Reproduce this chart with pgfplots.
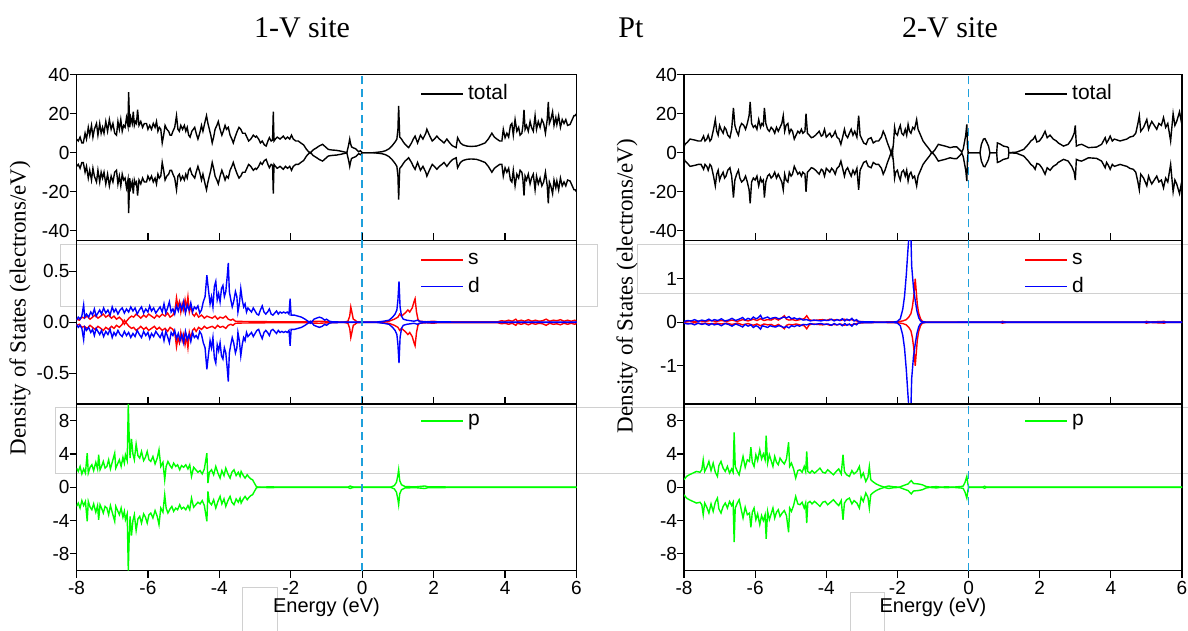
\documentclass[border=0pt]{standalone}
\usepackage{fontspec}
\setmainfont{Liberation Serif}
\newfontfamily\arial{Liberation Sans}
\usepackage{pgfplots}
\pgfplotsset{compat=1.18}
\usepackage{pgfplotstable}

\definecolor{dashblue}{RGB}{30,160,220}
\definecolor{boxgray}{RGB}{208,208,208}
\tikzset{curve/.style={line width=0.7pt}}

% ---------------- left column (1-V site) ----------------
\pgfplotstableread{
E v
-8.00 7
-7.95 6
-7.90 8
-7.85 5
-7.81 5
-7.76 10
-7.72 7
-7.67 13
-7.63 9
-7.58 14
-7.54 8
-7.50 12
-7.44 15
-7.40 9
-7.35 15
-7.31 10
-7.27 13
-7.23 10
-7.18 16
-7.13 11
-7.08 17
-7.03 12
-6.98 15
-6.93 10
-6.88 9
-6.84 16
-6.80 12
-6.76 17
-6.72 11
-6.68 14
-6.64 13
-6.60 18
-6.56 14
-6.54 31
-6.51 13
-6.48 18
-6.44 15
-6.41 21
-6.38 14
-6.35 16
-6.32 15
-6.29 22
-6.25 14
-6.20 16
-6.15 13
-6.10 15
-6.04 15
-6.00 12
-5.95 14
-5.90 12
-5.85 15
-5.80 13
-5.76 16
-5.72 11
-5.68 13
-5.64 12
-5.60 5
-5.56 9
-5.52 14
-5.47 12
-5.42 11
-5.38 9
-5.34 9
-5.30 11
-5.25 13
-5.20 19
-5.16 12
-5.12 11
-5.08 14
-5.03 12
-4.98 14
-4.94 11
-4.90 13
-4.86 9
-4.82 8
-4.77 11
-4.73 12
-4.69 13
-4.65 10
-4.60 7
-4.55 10
-4.50 14
-4.46 11
-4.40 16
-4.36 19
-4.32 15
-4.28 12
-4.24 9
-4.20 5
-4.16 8
-4.12 12
-4.07 14
-4.03 16
-3.98 12
-3.93 9
-3.89 11
-3.84 14
-3.80 12
-3.75 13
-3.70 9
-3.65 7
-3.61 5
-3.56 8
-3.50 11
-3.45 13
-3.40 12
-3.35 10
-3.28 10
-3.23 8
-3.18 6
-3.12 7
-3.05 9
-2.99 8
-2.96 8.5
-2.90 7
-2.85 5
-2.80 6
-2.74 4
-2.69 3.4
-2.64 6
-2.60 7.7
-2.55 6
-2.51 6.5
-2.49 21
-2.47 6
-2.43 7
-2.38 8
-2.30 7
-2.21 8.5
-2.15 7
-2.09 8
-2.03 7
-1.98 9
-1.93 7
-1.86 6
-1.79 6
-1.72 5
-1.64 4
-1.56 1.7
-1.46 -0.3
-1.37 1.5
-1.28 2.5
-1.20 3.5
-1.11 4.3
-1.03 3
-0.95 1.7
-0.85 1.4
-0.72 1.2
-0.60 0.8
-0.48 0.3
-0.43 0.1
-0.38 4
-0.35 7
-0.33 5
-0.30 3
-0.25 2.5
-0.18 2
-0.10 0.5
-0.05 1
0.00 0
0.30 0
0.41 0.2
0.55 0.5
0.65 1
0.75 2
0.83 3.4
0.92 5.5
0.97 7
1.00 12
1.02 24
1.05 8
1.10 7
1.15 5.5
1.20 4.3
1.30 2.6
1.38 5
1.43 7
1.48 8.5
1.55 5
1.63 9
1.70 7
1.78 10
1.81 12
1.88 9
1.96 6
2.02 7
2.09 8.5
2.16 7
2.23 6
2.29 5
2.37 7
2.45 5
2.53 3.5
2.63 2.6
2.67 7.7
2.75 5
2.82 4
2.93 3.4
3.05 3.2
3.20 3.4
3.30 4
3.44 5
3.53 7
3.63 10
3.70 8
3.77 7
3.85 6
3.91 6
3.95 12
4.00 7.7
4.05 10
4.10 8
4.15 14
4.19 15
4.23 9
4.28 17
4.33 11
4.38 13
4.42 9
4.47 10
4.50 14
4.53 22
4.56 12
4.60 14
4.65 11
4.70 16
4.74 13
4.79 11
4.84 19
4.88 12
4.93 16
4.98 13
5.03 17
5.08 15
5.13 10
5.18 17
5.21 26
5.24 15
5.28 17
5.33 21
5.37 14
5.42 18
5.45 14.5
5.50 19
5.55 13
5.60 17
5.65 15
5.70 17
5.75 14
5.82 14.5
5.88 17
5.93 19
5.96 19
6.00 20
}\LT

\pgfplotstableread{
E v
-8.00 0.02
-7.95 0.05
-7.90 0.03
-7.85 0.06
-7.80 0.17
-7.77 0.05
-7.72 0.08
-7.66 0.05
-7.60 0.10
-7.55 0.07
-7.50 0.13
-7.45 0.06
-7.40 0.09
-7.35 0.12
-7.30 0.08
-7.24 0.14
-7.18 0.09
-7.12 0.12
-7.06 0.07
-7.00 0.15
-6.95 0.10
-6.90 0.13
-6.84 0.08
-6.78 0.12
-6.72 0.14
-6.66 0.09
-6.60 0.13
-6.54 0.10
-6.48 0.15
-6.42 0.11
-6.36 0.14
-6.30 0.08
-6.24 0.12
-6.18 0.15
-6.12 0.09
-6.06 0.13
-6.00 0.10
-5.95 0.16
-5.90 0.11
-5.84 0.14
-5.78 0.09
-5.72 0.12
-5.66 0.15
-5.60 0.10
-5.55 0.18
-5.50 0.09
-5.45 0.14
-5.40 0.20
-5.35 0.10
-5.30 0.13
-5.25 0.08
-5.20 0.16
-5.15 0.11
-5.10 0.18
-5.05 0.12
-5.00 0.20
-4.95 0.09
-4.90 0.17
-4.85 0.12
-4.80 0.19
-4.75 0.10
-4.70 0.15
-4.65 0.13
-4.60 0.16
-4.55 0.09
-4.50 0.12
-4.45 0.20
-4.40 0.25
-4.35 0.46
-4.30 0.30
-4.26 0.18
-4.22 0.25
-4.18 0.15
-4.14 0.35
-4.10 0.40
-4.06 0.22
-4.02 0.28
-3.98 0.20
-3.94 0.33
-3.90 0.36
-3.86 0.25
-3.82 0.30
-3.78 0.45
-3.75 0.58
-3.72 0.30
-3.68 0.22
-3.64 0.15
-3.60 0.20
-3.55 0.30
-3.51 0.25
-3.48 0.10
-3.44 0.18
-3.40 0.33
-3.36 0.22
-3.32 0.15
-3.28 0.18
-3.24 0.10
-3.20 0.14
-3.15 0.12
-3.10 0.10
-3.05 0.14
-3.00 0.11
-2.95 0.08
-2.90 0.07
-2.85 0.12
-2.80 0.16
-2.75 0.10
-2.70 0.08
-2.65 0.10
-2.60 0.13
-2.55 0.08
-2.50 0.07
-2.45 0.09
-2.40 0.11
-2.35 0.08
-2.30 0.10
-2.25 0.09
-2.20 0.10
-2.15 0.09
-2.10 0.10
-2.05 0.08
-2.02 0.23
-1.99 0.07
-1.90 0.07
-1.80 0.06
-1.70 0.05
-1.60 0.03
-1.52 0.01
-1.45 -0.01
-1.40 0.01
-1.35 0.03
-1.28 0.04
-1.20 0.05
-1.12 0.04
-1.05 0.02
-1.00 0.03
-0.92 0.01
-0.85 0.005
-0.60 0.002
0.00 0.001
0.40 0.002
0.60 0.01
0.75 0.02
0.85 0.05
0.92 0.08
0.97 0.12
1.00 0.22
1.03 0.40
1.06 0.15
1.10 0.06
1.15 0.03
1.25 0.02
1.35 0.015
1.45 0.01
1.55 0.02
1.60 0.01
1.70 0.005
2.00 0.003
6.00 0.002
}\LD

\pgfplotstableread{
E v
-8.00 0.03
-7.92 0.02
-7.85 0.05
-7.78 0.04
-7.70 0.06
-7.62 0.03
-7.55 0.05
-7.48 0.07
-7.40 0.04
-7.32 0.06
-7.25 0.08
-7.18 0.05
-7.10 0.07
-7.02 0.04
-6.95 0.06
-6.88 0.03
-6.80 0.05
-6.72 0.02
-6.66 -0.02
-6.60 0.01
-6.53 0.04
-6.46 0.06
-6.40 0.05
-6.33 0.08
-6.26 0.06
-6.20 0.04
-6.12 0.07
-6.05 0.05
-5.98 0.08
-5.90 0.06
-5.82 0.04
-5.75 0.07
-5.68 0.05
-5.60 0.08
-5.52 0.06
-5.45 0.09
-5.38 0.05
-5.30 0.07
-5.24 0.12
-5.20 0.24
-5.16 0.15
-5.12 0.20
-5.08 0.10
-5.04 0.18
-5.00 0.12
-4.96 0.22
-4.92 0.14
-4.88 0.25
-4.84 0.10
-4.80 0.16
-4.75 0.08
-4.70 0.06
-4.65 0.09
-4.58 0.05
-4.50 0.07
-4.42 0.04
-4.35 0.06
-4.28 0.05
-4.20 0.04
-4.12 0.06
-4.05 0.03
-3.98 0.05
-3.90 0.04
-3.82 0.06
-3.75 0.03
-3.68 0.02
-3.62 0.03
-3.55 0.01
-3.40 0.008
-3.00 0.006
-2.50 0.005
-2.00 0.004
-1.60 0.005
-1.20 0.01
-0.90 0.004
-0.50 0.002
-0.40 0.01
-0.35 0.06
-0.32 0.15
-0.29 0.10
-0.25 0.03
-0.20 0.02
-0.15 0.005
0.00 0.002
0.50 0.003
0.75 0.01
0.90 0.03
1.00 0.05
1.05 0.08
1.10 0.06
1.20 0.09
1.28 0.12
1.33 0.10
1.40 0.14
1.45 0.20
1.48 0.23
1.52 0.10
1.56 0.03
1.60 0.01
1.80 0.005
2.00 0.01
2.10 0.005
3.80 0.005
3.90 0.015
4.00 0.01
4.10 0.02
4.20 0.01
4.30 0.03
4.35 0.01
4.45 0.02
4.55 0.01
4.65 0.025
4.75 0.01
4.85 0.02
4.95 0.01
5.05 0.015
5.15 0.03
5.25 0.01
5.35 0.02
5.45 0.015
5.55 0.025
5.65 0.01
5.75 0.02
5.85 0.01
5.95 0.02
6.00 0.01
}\LS

\pgfplotstableread{
E v
-8.00 2.3
-7.95 1.9
-7.90 2.5
-7.85 1.6
-7.80 2.2
-7.75 1.7
-7.70 4.1
-7.67 1.7
-7.62 2.4
-7.57 2.7
-7.52 2.0
-7.46 3.0
-7.41 2.2
-7.38 3.9
-7.34 2.1
-7.29 2.6
-7.25 3.1
-7.20 2.3
-7.15 2.5
-7.10 3.3
-7.05 2.2
-7.00 3.0
-6.93 4.1
-6.90 2.3
-6.85 2.8
-6.80 3.3
-6.75 2.5
-6.70 3.6
-6.66 2.9
-6.63 3.9
-6.58 3.2
-6.55 10
-6.53 6.8
-6.50 3.5
-6.46 5.8
-6.42 4.0
-6.38 3.3
-6.33 5.2
-6.28 3.8
-6.23 3.5
-6.18 4.3
-6.12 3.2
-6.07 3.6
-6.02 4.3
-5.97 3.3
-5.92 3.1
-5.86 3.7
-5.80 2.8
-5.74 3.5
-5.69 4.5
-5.64 2.5
-5.58 3.0
-5.53 0.9
-5.49 2.5
-5.44 3.1
-5.38 2.6
-5.33 2.3
-5.28 2.9
-5.22 2.5
-5.17 2.7
-5.11 2.1
-5.06 2.6
-5.00 2.4
-4.94 2.7
-4.88 2.2
-4.83 2.7
-4.78 1.3
-4.72 2.4
-4.66 2.1
-4.60 1.8
-4.54 2.0
-4.48 1.6
-4.42 2.2
-4.35 4.1
-4.32 0.5
-4.28 1.8
-4.22 2.1
-4.16 1.5
-4.10 2.5
-4.04 1.7
-3.98 1.1
-3.93 2.0
-3.87 1.4
-3.82 2.3
-3.76 1.6
-3.70 1.1
-3.65 1.8
-3.59 2.1
-3.53 1.4
-3.47 1.8
-3.42 1.3
-3.39 1.9
-3.33 1.4
-3.28 1.1
-3.22 1.5
-3.17 1.2
-3.12 1.0
-3.07 0.9
-3.02 0.5
-2.96 0.05
-2.90 0.02
-2.50 0.05
-2.40 0.01
-2.00 0.02
-1.50 0.01
-0.40 0.02
-0.34 0.15
-0.28 0.05
-0.20 0.01
0.80 0.02
0.90 0.2
0.96 0.6
1.00 1.5
1.02 2.1
1.05 0.8
1.10 0.3
1.20 0.08
1.50 0.05
1.75 0.15
1.85 0.04
2.30 0.05
2.40 0.01
6.00 0.01
}\LP

% ---------------- right column (2-V site) ----------------
\pgfplotstableread{
E v
-8.00 3
-7.97 4.3
-7.90 5.5
-7.83 7
-7.70 6.5
-7.60 6
-7.52 6
-7.45 8.5
-7.41 6
-7.36 7
-7.32 9
-7.27 6
-7.23 7
-7.17 12
-7.12 17
-7.08 11
-7.04 9
-7.00 14
-6.96 12
-6.90 10
-6.86 13
-6.82 12
-6.77 9
-6.71 7.7
-6.66 12
-6.61 23
-6.57 14
-6.52 11
-6.47 9
-6.43 13
-6.38 15
-6.32 14
-6.27 12
-6.22 15
-6.17 19
-6.14 26
-6.10 15
-6.05 13
-6.00 14
-5.95 12
-5.90 17
-5.85 13
-5.81 15
-5.77 14
-5.74 23
-5.70 15
-5.65 12
-5.60 11
-5.55 13
-5.50 12
-5.45 10
-5.40 13
-5.35 11
-5.30 13
-5.25 15
-5.21 19
-5.17 11
-5.13 14
-5.08 15
-5.04 10
-4.99 12
-4.95 11
-4.90 7
-4.85 9
-4.80 11
-4.75 10
-4.70 12
-4.66 10
-4.60 11
-4.57 20
-4.53 10
-4.48 9
-4.42 7.7
-4.37 8
-4.30 9
-4.25 10
-4.20 11
-4.14 8.5
-4.10 9
-4.05 12
-4.00 8
-3.95 9
-3.90 10
-3.85 8
-3.80 9
-3.75 11
-3.70 8
-3.64 7
-3.59 4.3
-3.54 8
-3.49 12
-3.45 9
-3.40 7.7
-3.35 10
-3.30 12
-3.25 9
-3.20 11
-3.14 8
-3.09 19
-3.05 9
-3.00 7
-2.95 5
-2.88 4.3
-2.82 7
-2.74 7.7
-2.68 5
-2.60 6
-2.53 6
-2.45 8
-2.40 11
-2.35 9
-2.28 5
-2.23 2.6
-2.18 0
-2.15 -1.7
-2.11 5
-2.08 13
-2.05 10
-2.00 9
-1.96 12
-1.92 14
-1.88 10
-1.83 9
-1.78 12
-1.74 9
-1.70 14.5
-1.66 11
-1.62 10
-1.57 13
-1.52 12
-1.46 17
-1.42 12
-1.35 9
-1.28 6
-1.20 4
-1.10 1.7
-1.03 -0.3
-0.95 1.4
-0.85 4.3
-0.75 3.8
-0.66 3.4
-0.52 2.6
-0.42 3
-0.33 3
-0.25 1.5
-0.19 0.3
-0.15 2
-0.12 5
-0.08 9
-0.05 14.5
-0.03 3
-0.01 0
0.32 0
0.36 4.3
0.42 7
0.46 7.2
0.52 5
0.56 3.4
0.60 0
0.79 0
0.81 5
0.88 4.5
0.98 3.4
1.08 3
1.12 2.6
1.13 0
1.35 0.3
1.45 1
1.55 1.7
1.68 4.3
1.75 6
1.82 7
1.87 8.5
1.92 5.5
1.99 6
2.07 8
2.15 11
2.21 7.7
2.29 9
2.38 7
2.47 6
2.52 5
2.67 3.4
2.80 4.3
2.90 7
2.97 10
3.00 14
3.03 3.4
3.10 4
3.18 4.3
3.37 2.6
3.60 2.9
3.74 4.3
3.79 6
3.84 7.7
3.88 5
3.93 6.5
3.98 8.5
4.04 6
4.10 7
4.26 6
4.35 6.5
4.45 7
4.53 8
4.63 8.5
4.70 10
4.76 15
4.80 19
4.84 11
4.92 13
5.01 17
5.06 12
5.10 14
5.15 16
5.22 14
5.29 12
5.35 15
5.42 14
5.48 18
5.54 13
5.60 15
5.68 6
5.75 20
5.80 14
5.85 16
5.93 21
5.97 17
6.00 20
}\RT

\pgfplotstableread{
E v
-8.00 0.02
-7.90 0.04
-7.80 0.03
-7.70 0.06
-7.60 0.02
-7.50 0.05
-7.40 0.03
-7.30 0.07
-7.22 0.03
-7.15 0.06
-7.05 0.04
-6.95 0.08
-6.85 0.03
-6.75 0.05
-6.65 0.09
-6.55 0.04
-6.45 0.07
-6.35 0.11
-6.28 0.05
-6.20 0.09
-6.12 0.06
-6.05 0.12
-5.98 0.08
-5.92 0.10
-5.85 0.16
-5.80 0.08
-5.72 0.10
-5.65 0.12
-5.58 0.08
-5.50 0.10
-5.42 0.11
-5.35 0.08
-5.28 0.09
-5.20 0.12
-5.12 0.10
-5.05 0.13
-4.98 0.08
-4.90 0.10
-4.82 0.07
-4.75 0.09
-4.65 0.05
-4.55 0.06
-4.45 0.03
-4.35 0.05
-4.25 0.04
-4.15 0.03
-4.05 0.05
-3.95 0.04
-3.85 0.07
-3.78 0.03
-3.70 0.06
-3.62 0.04
-3.55 0.08
-3.48 0.03
-3.42 0.07
-3.35 0.04
-3.28 0.09
-3.22 0.03
-3.15 0.06
-3.10 0.02
-3.00 0.01
-2.50 0.005
-2.10 0.005
-2.00 0.02
-1.92 0.08
-1.85 0.3
-1.80 0.6
-1.75 1.1
-1.71 1.6
-1.68 1.95
-1.62 1.95
-1.60 1.3
-1.55 0.8
-1.50 0.5
-1.45 0.25
-1.40 0.1
-1.35 0.03
-1.30 0.01
-1.20 0.005
6.00 0.003
}\RD

\pgfplotstableread{
E v
-8.00 0.01
-7.85 0.03
-7.70 0.01
-7.55 0.03
-7.40 0.02
-7.25 0.04
-7.10 0.02
-6.95 0.04
-6.80 0.02
-6.65 0.05
-6.50 0.02
-6.35 0.06
-6.20 0.03
-6.05 0.07
-5.95 0.04
-5.85 0.08
-5.75 0.04
-5.65 0.06
-5.55 0.05
-5.45 0.09
-5.35 0.05
-5.25 0.10
-5.18 0.15
-5.12 0.07
-5.05 0.05
-4.95 0.06
-4.85 0.04
-4.75 0.06
-4.62 0.08
-4.55 0.15
-4.48 0.06
-4.40 0.04
-4.25 0.05
-4.10 0.06
-4.00 0.04
-3.90 0.07
-3.80 0.05
-3.70 0.06
-3.60 0.04
-3.50 0.07
-3.40 0.05
-3.30 0.06
-3.20 0.04
-3.10 0.02
-2.90 0.01
-2.50 0.005
-2.00 0.01
-1.85 0.03
-1.75 0.06
-1.68 0.12
-1.62 0.2
-1.58 0.35
-1.54 0.6
-1.50 1.0
-1.47 0.7
-1.44 0.4
-1.40 0.2
-1.35 0.08
-1.30 0.02
-1.20 0.005
0.90 0.005
0.95 0.02
1.05 0.005
4.95 0.005
5.00 0.02
5.10 0.005
5.50 0.02
5.55 0.005
6.00 0.005
}\RS

\pgfplotstableread{
E v
-8.00 0.9
-7.93 1.3
-7.85 1.5
-7.75 1.7
-7.65 1.9
-7.55 1.8
-7.50 2.1
-7.46 3.3
-7.42 1.9
-7.36 2.4
-7.30 3.1
-7.24 2.0
-7.18 2.9
-7.12 1.8
-7.06 1.3
-7.02 2.6
-6.96 3.1
-6.90 2.3
-6.84 1.9
-6.78 2.5
-6.72 1.7
-6.66 2.2
-6.62 1.8
-6.59 6.6
-6.56 2.5
-6.50 1.9
-6.45 1.5
-6.40 2.5
-6.34 3.7
-6.28 2.4
-6.22 3.3
-6.16 3.1
-6.12 4.8
-6.08 3.0
-6.03 2.5
-5.98 3.9
-5.93 3.2
-5.87 4.5
-5.82 3.4
-5.77 4.0
-5.72 3.3
-5.69 6.2
-5.65 2.9
-5.60 3.9
-5.55 3.2
-5.50 2.5
-5.45 3.7
-5.40 3.0
-5.35 2.7
-5.30 3.5
-5.24 3.1
-5.18 2.8
-5.12 3.4
-5.06 5.4
-5.03 2.5
-4.98 2.9
-4.92 2.2
-4.86 1.1
-4.80 2.0
-4.74 2.1
-4.68 1.8
-4.62 2.5
-4.58 1.9
-4.55 4.3
-4.52 1.9
-4.46 1.7
-4.40 2.0
-4.33 1.7
-4.25 2.0
-4.18 2.3
-4.10 1.8
-4.03 1.7
-3.96 2.1
-3.88 1.8
-3.80 1.5
-3.72 1.9
-3.65 2.2
-3.58 1.6
-3.53 3.9
-3.49 1.9
-3.43 1.5
-3.35 1.3
-3.28 2.0
-3.22 1.6
-3.14 1.9
-3.07 2.5
-3.02 1.2
-2.96 1.7
-2.89 0.7
-2.83 1.2
-2.79 2.5
-2.75 0.9
-2.70 0.7
-2.60 0.4
-2.50 0.2
-2.37 0.02
-2.25 0.15
-2.10 0.05
-1.94 0.02
-1.80 0.25
-1.70 0.4
-1.61 0.8
-1.55 0.45
-1.42 0.4
-1.30 0.3
-1.20 0.1
-1.10 0.02
-0.90 0.08
-0.80 0.02
-0.60 0.05
-0.45 0.01
-0.30 0.06
-0.20 0.1
-0.15 0.15
-0.10 0.6
-0.05 1.3
-0.02 0.4
0.00 0.02
0.40 0.02
0.45 0.12
0.50 0.02
6.00 0.01
}\RP

\pgfplotsset{
  dosbase/.style={
    scale only axis,
    xmin=-8, xmax=6,
    xtick={-8,-6,-4,-2,0,2,4,6},
    xticklabels={-8,-6,-4,-2,0,2,4,6},
    tick align=outside,
    major tick length=3.5pt,
    ytick pos=left,
    axis line style={line width=0.8pt},
    tick style={black, line width=0.6pt},
    tick label style={font=\arial\fontsize{9.5}{11}\selectfont},
    yticklabel style={xshift=3.5pt},
    xticklabel style={yshift=1.5pt},
    legend style={draw=none, fill=none, font=\arial\fontsize{10.5}{12}\selectfont,
      anchor=north west, row sep=1pt},
    legend cell align=left,
  },
  toppanel/.style={dosbase, height=82.9pt, ymin=-45, ymax=40,
    ytick={-40,-20,0,20,40}, yticklabels={-40,-20,0,20,40}, xtick=\empty},
  midpanel/.style={dosbase, height=81.75pt, xtick pos=right, xticklabels={}},
  botpanel/.style={dosbase, height=83.25pt, ymin=-10, ymax=10,
    ytick={-8,-4,0,4,8}, yticklabels={-8,-4,0,4,8},
    xtick pos=both, xticklabel pos=lower},
  zeroline/.style={dashblue, line width=0.75pt, dash pattern=on 4pt off 2.5pt},
  keyblack/.style={legend image code/.code={\draw[black, line width=0.8pt] (0pt,0pt) -- (21pt,0pt);}},
  keyred/.style={legend image code/.code={\draw[red, line width=0.8pt] (0pt,0pt) -- (21pt,0pt);}},
  keyblue/.style={legend image code/.code={\draw[blue, line width=0.8pt] (0pt,0pt) -- (21pt,0pt);}},
  keygreen/.style={legend image code/.code={\draw[green, line width=0.8pt] (0pt,0pt) -- (21pt,0pt);}},
}

\begin{document}
\begin{tikzpicture}
\path[use as bounding box] (0pt,0pt) rectangle (594pt,315.5pt);
% faint boxes present in the reference
\begin{scope}[boxgray, line width=0.5pt]
\draw (30pt,193pt) rectangle (298.5pt,162pt);
\draw (595pt,193pt) -- (318.5pt,193pt) -- (318.5pt,168.5pt) -- (595pt,168.5pt);
\draw (595pt,111.5pt) -- (27.5pt,111.5pt) -- (27.5pt,78.5pt) -- (595pt,78.5pt);
\draw (121pt,-1pt) -- (121pt,21.5pt) -- (138.5pt,21.5pt) -- (138.5pt,-1pt);
\draw (425pt,-1pt) -- (425pt,19pt) -- (442pt,19pt) -- (442pt,-1pt);
\end{scope}

% ===== left column =====
\begin{axis}[toppanel, width=250pt, at={(38.25pt,195.25pt)}, anchor=south west,
  legend style={at={(0.675,0.99)}}]
\addlegendimage{keyblack}
\addlegendentry{total}
\addplot[curve, black, forget plot] table[x=E, y=v]{\LT};
\addplot[curve, black, forget plot] table[x=E, y expr=-\thisrow{v}]{\LT};
\addplot[zeroline, forget plot] coordinates {(0,-45) (0,40)};
\end{axis}

\begin{axis}[midpanel, width=250pt, at={(38.25pt,113.5pt)}, anchor=south west,
  ymin=-0.8, ymax=0.8, ytick={-0.5,0,0.5}, yticklabels={-0.5,0.0,0.5},
  legend style={at={(0.675,0.975)}}]
\addlegendimage{keyred}
\addlegendentry{s}
\addlegendimage{keyblue}
\addlegendentry{d}
\addplot[curve, red, forget plot] table[x=E, y=v]{\LS};
\addplot[curve, red, forget plot] table[x=E, y expr=-\thisrow{v}]{\LS};
\addplot[curve, blue, forget plot] table[x=E, y=v]{\LD};
\addplot[curve, blue, forget plot] table[x=E, y expr=-\thisrow{v}]{\LD};
\addplot[zeroline, forget plot] coordinates {(0,-0.8) (0,0.8)};
\end{axis}

\begin{axis}[botpanel, width=250pt, at={(38.25pt,30.25pt)}, anchor=south west,
  legend style={at={(0.675,0.99)}},
  xlabel={Energy (eV)},
  xlabel style={font=\arial\fontsize{10}{12}\selectfont, at={(axis description cs:0.5,0)}, anchor=center, yshift=-18.5pt}]
\addlegendimage{keygreen}
\addlegendentry{p}
\addplot[curve, green, forget plot] table[x=E, y=v]{\LP};
\addplot[curve, green, forget plot] table[x=E, y expr=-\thisrow{v}]{\LP};
\addplot[zeroline, forget plot] coordinates {(0,-10) (0,10)};
\end{axis}

% ===== right column =====
\begin{axis}[toppanel, width=249pt, at={(342pt,195.25pt)}, anchor=south west,
  legend style={at={(0.671,0.99)}}]
\addlegendimage{keyblack}
\addlegendentry{total}
\addplot[curve, black, forget plot] table[x=E, y=v]{\RT};
\addplot[curve, black, forget plot] table[x=E, y expr=-\thisrow{v}]{\RT};
\addplot[zeroline, forget plot] coordinates {(0,-45) (0,40)};
\end{axis}

\begin{axis}[midpanel, width=249pt, at={(342pt,113.5pt)}, anchor=south west,
  ymin=-1.88, ymax=1.88, ytick={-1,0,1}, yticklabels={-1,0,1},
  legend style={at={(0.671,0.975)}}]
\addlegendimage{keyred}
\addlegendentry{s}
\addlegendimage{keyblue}
\addlegendentry{d}
\addplot[curve, red, forget plot] table[x=E, y=v]{\RS};
\addplot[curve, red, forget plot] table[x=E, y expr=-\thisrow{v}]{\RS};
\addplot[curve, blue, forget plot] table[x=E, y=v]{\RD};
\addplot[curve, blue, forget plot] table[x=E, y expr=-\thisrow{v}]{\RD};
\addplot[zeroline, forget plot] coordinates {(0,-1.88) (0,1.88)};
\end{axis}

\begin{axis}[botpanel, width=249pt, at={(342pt,30.25pt)}, anchor=south west,
  legend style={at={(0.671,0.99)}},
  xlabel={Energy (eV)},
  xlabel style={font=\arial\fontsize{10}{12}\selectfont, at={(axis description cs:0.5,0)}, anchor=center, yshift=-18.5pt}]
\addlegendimage{keygreen}
\addlegendentry{p}
\addplot[curve, green, forget plot] table[x=E, y=v]{\RP};
\addplot[curve, green, forget plot] table[x=E, y expr=-\thisrow{v}]{\RP};
\addplot[zeroline, forget plot] coordinates {(0,-10) (0,10)};
\end{axis}

% titles and axis labels
\node[font=\fontsize{15}{18}\selectfont] at (151pt,301.5pt) {1-V site};
\node[font=\fontsize{15}{18}\selectfont] at (315.5pt,301.5pt) {Pt};
\node[font=\fontsize{15}{18}\selectfont] at (475pt,301.5pt) {2-V site};
\node[rotate=90, font=\fontsize{11.5}{14}\selectfont] at (10pt,161.5pt) {Density of States (electrons/eV)};
\node[rotate=90, font=\fontsize{11.5}{14}\selectfont] at (313.5pt,172.5pt) {Density of States (electrons/eV)};
\end{tikzpicture}
\end{document}
